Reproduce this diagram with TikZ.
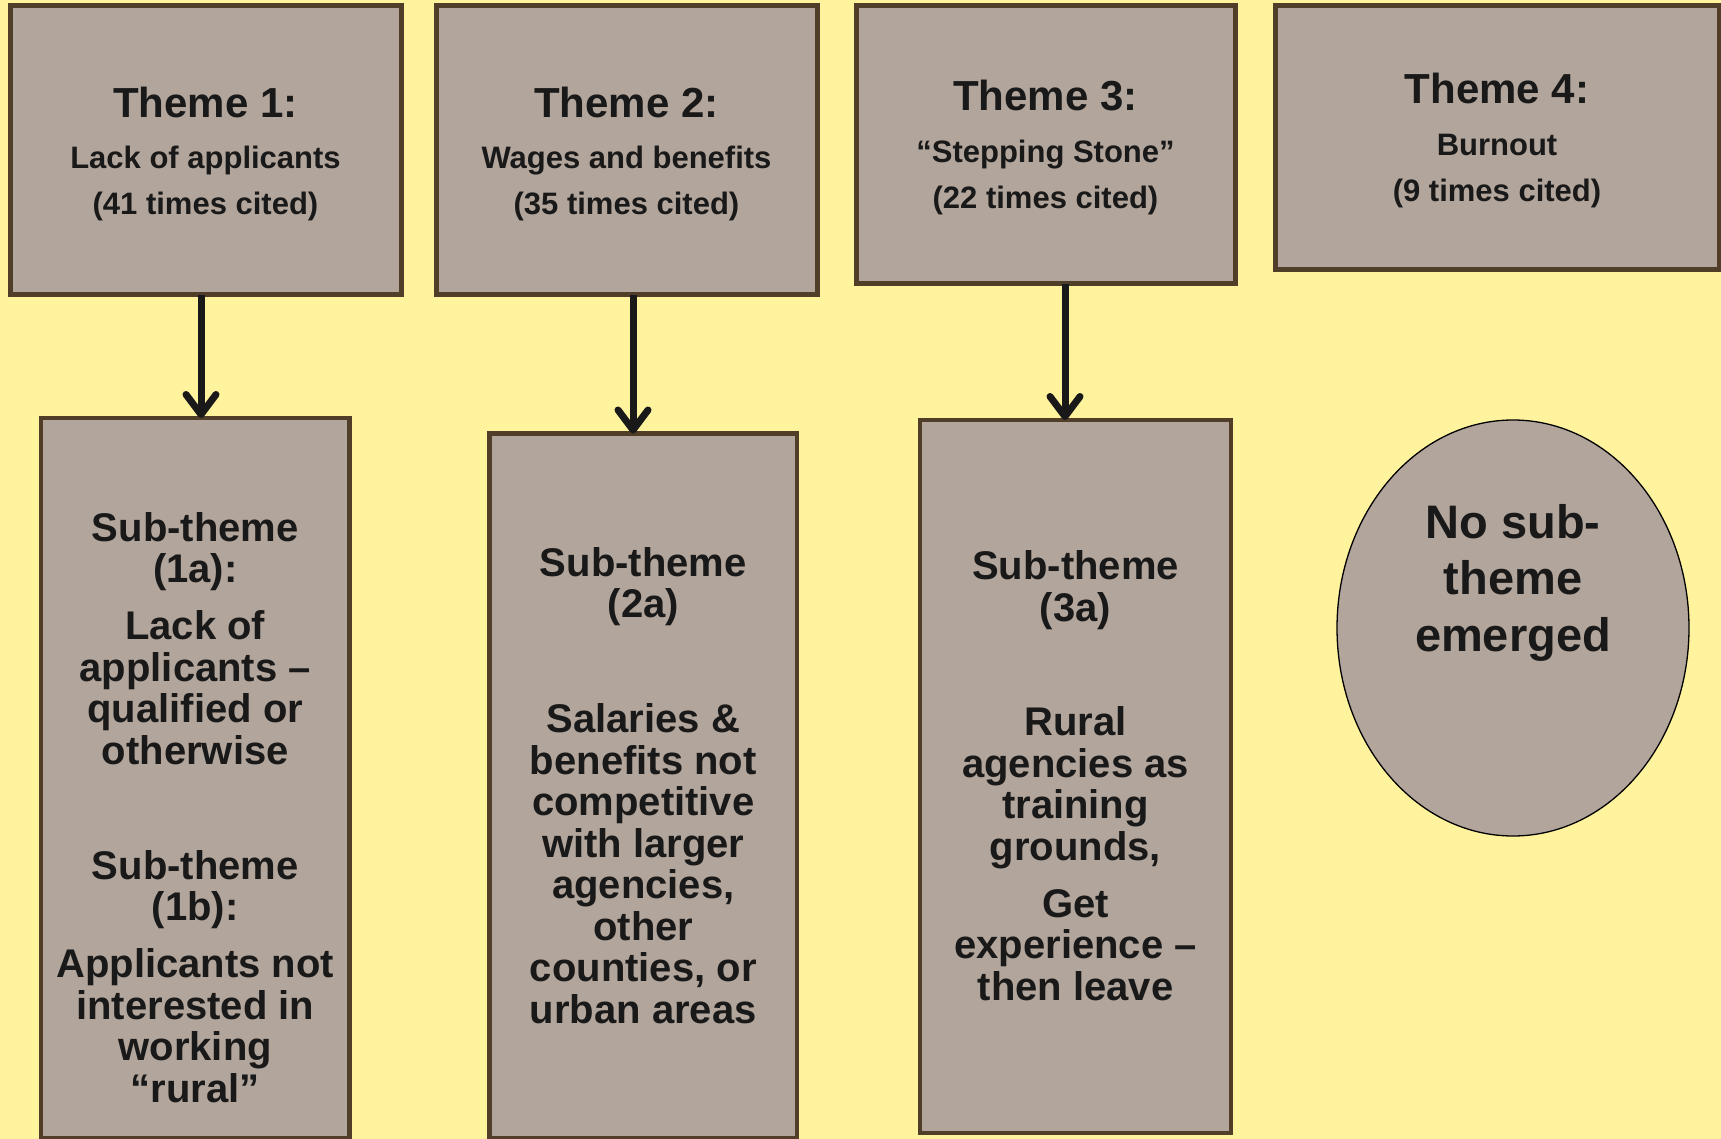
\documentclass[tikz,border=0pt]{standalone}
\usepackage{fontspec}
\setmainfont{Liberation Sans}
\usetikzlibrary{arrows.meta,shapes.geometric}
\definecolor{bgyellow}{RGB}{255,243,157}
\definecolor{boxfill}{RGB}{178,165,155}
\definecolor{boxline}{RGB}{80,62,40}
\definecolor{ink}{RGB}{25,25,25}
\tikzset{
  themebox/.style={draw=boxline, line width=5pt, fill=boxfill, rectangle, inner sep=0pt, outer sep=0pt},
  subbox/.style={draw=boxline, line width=4.5pt, fill=boxfill, rectangle, inner sep=0pt, outer sep=0pt},
  nobox/.style={draw=black, line width=1.3pt, fill=boxfill, ellipse, inner sep=0pt, outer sep=0pt},
  themetext/.style={anchor=base, align=center, inner sep=0pt, text=ink, font=\bfseries\fontsize{31}{46}\selectfont},
  subtext/.style={anchor=base, align=center, inner sep=0pt, text=ink, font=\bfseries\fontsize{40}{41.5}\selectfont},
  notext/.style={anchor=base, align=center, inner sep=0pt, text=ink, font=\bfseries\fontsize{47}{56.5}\selectfont},
  arr/.style={draw=ink, line width=7pt, -{Straight Barb[length=20pt,width=30pt,round]}},
}
\newcommand{\ttl}[1]{{\fontsize{42}{42}\selectfont #1}}
\begin{document}
\begin{tikzpicture}[x=1pt,y=-1pt]
\fill[bgyellow] (0,0) rectangle (1721,1139);
\useasboundingbox (0,0) rectangle (1721,1139);

% theme boxes
\node[themebox, minimum width=391pt, minimum height=289.5pt] (t1) at (205.5,150.25) {};
\node[themebox, minimum width=381pt, minimum height=289.5pt] (t2) at (626.5,150.25) {};
\node[themebox, minimum width=379pt, minimum height=278.5pt] (t3) at (1045.5,144.75) {};
\node[themebox, minimum width=444pt, minimum height=264.5pt] (t4) at (1497,137.75) {};

% sub-theme boxes
\node[subbox, minimum width=308.5pt, minimum height=720pt] (s1) at (195.25,778) {};
\node[subbox, minimum width=307.5pt, minimum height=704.5pt] (s2) at (643.25,785.75) {};
\node[subbox, minimum width=311pt, minimum height=713pt] (s3) at (1075.5,776.5) {};
\node[nobox, minimum width=352pt, minimum height=416pt] (s4) at (1513,628) {};

% theme texts (base anchor = baseline of last line)
\node[themetext] (t1txt) at (t1.north |- 0,215) {\ttl{Theme 1:}\\[5pt]Lack of applicants\\(41 times cited)};
\node[themetext] (t2txt) at (t2.north |- 0,215) {\ttl{Theme 2:}\\[5pt]Wages and benefits\\(35 times cited)};
\node[themetext] (t3txt) at (t3.north |- 0,209) {\ttl{Theme 3:}\\[6pt]“Stepping Stone”\\(22 times cited)};
\node[themetext] (t4txt) at (t4.north |- 0,202) {\ttl{Theme 4:}\\[6pt]Burnout\\(9 times cited)};

% sub-theme texts
\node[subtext] (s1txt) at (s1.north |- 0,1102) {Sub-theme\\(1a):\\[15.5pt]Lack of\\applicants –\\qualified or\\otherwise\\[73.5pt]Sub-theme\\(1b):\\[15.5pt]Applicants not\\interested in\\working\\“rural”};
\node[subtext] (s2txt) at (s2.north |- 0,1023) {Sub-theme\\(2a)\\[73.5pt]Salaries \&\\benefits not\\competitive\\with larger\\agencies,\\other\\counties, or\\urban areas};
\node[subtext] (s3txt) at (s3.north |- 0,1000) {Sub-theme\\(3a)\\[73pt]Rural\\agencies as\\training\\grounds,\\[15.5pt]Get\\experience –\\then leave};
\node[notext] (s4txt) at (s4.center |- 0,651) {No sub-\\theme\\emerged};

% connectors
\draw[arr] ([xshift=-4.5pt]t1.south) -- ([xshift=-4.5pt]t1.south |- s1.north);
\draw[arr] ([xshift=6.5pt]t2.south) -- ([xshift=6.5pt]t2.south |- s2.north);
\draw[arr] ([xshift=19.5pt]t3.south) -- ([xshift=19.5pt]t3.south |- s3.north);
\end{tikzpicture}
\end{document}
